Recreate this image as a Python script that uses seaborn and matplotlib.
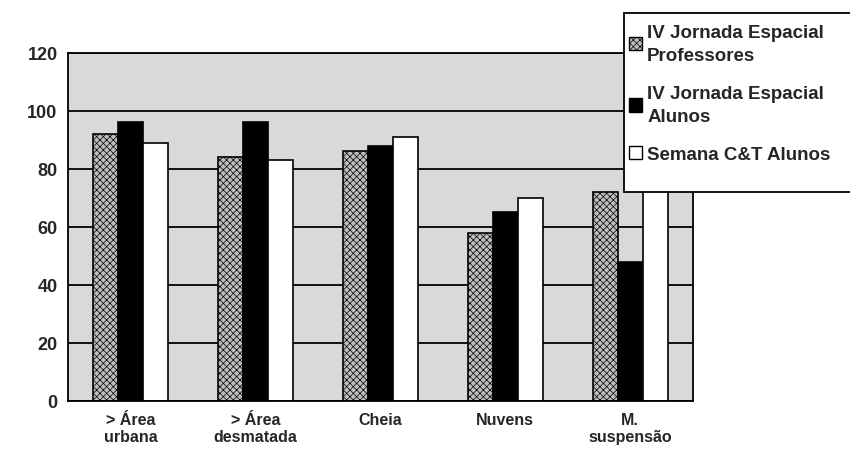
import pandas as pd
import matplotlib.pyplot as plt
import seaborn as sns
import numpy as np
from matplotlib.patches import Patch, Rectangle

# data
categories = ['> Área\nurbana', '> Área\ndesmatada', 'Cheia', 'Nuvens', 'M.\nsuspensão']
series = ['IV Jornada Espacial\nProfessores', 'IV Jornada Espacial\nAlunos', 'Semana C&T Alunos']
professores = [92, 84, 86, 58, 72]
alunos_jornada = [96, 96, 88, 65, 48]
alunos_semana = [89, 83, 91, 70, 75]

df = pd.DataFrame({
    'categoria': categories * 3,
    'serie': [series[0]] * 5 + [series[1]] * 5 + [series[2]] * 5,
    'valor': professores + alunos_jornada + alunos_semana,
})

sns.set_style('white')
plt.rcParams['font.family'] = ['Liberation Sans', 'DejaVu Sans']
plt.rcParams['font.weight'] = 'bold'
plt.rcParams['hatch.color'] = '#6e6e6e'
plt.rcParams['hatch.linewidth'] = 0.5

colors = ['#bdbdbd', '#000000', '#ffffff']
hatches = ['xxxxx', '', '']

fig = plt.figure(figsize=(8.5, 4.64), dpi=100)
ax = fig.add_axes([0.08, 0.134, 0.735, 0.75])
ax.set_facecolor('#d9d9d9')

sns.barplot(data=df, x='categoria', y='valor', hue='serie', hue_order=series,
            palette=colors, width=0.6, gap=0, edgecolor='black', linewidth=1.2,
            saturation=1, ax=ax, legend=False)

for i, cont in enumerate(ax.containers):
    for bar in cont:
        bar.set_hatch(hatches[i])

ax.set_ylim(0, 120)
ax.set_yticks(np.arange(0, 121, 20))
ax.yaxis.grid(True, color='black', linewidth=1.3)
ax.set_axisbelow(True)
ax.set_xlim(-0.5, 4.5)
ax.set_xticks(np.arange(len(categories)))
ax.set_xticklabels(categories, fontsize=11.5, fontweight='bold')
ax.tick_params(axis='x', length=0, pad=8)
# tick marks at category boundaries
ax.set_xticks(np.arange(-0.5, 5, 1), minor=True)
ax.tick_params(axis='x', which='minor', length=5, width=1.2, direction='out')
ax.tick_params(axis='y', length=4, width=1.2, direction='out', labelsize=13)
for lbl in ax.get_yticklabels():
    lbl.set_fontweight('bold')
ax.set_xlabel('')
ax.set_ylabel('')
for s in ax.spines.values():
    s.set_color('black')
    s.set_linewidth(1.3)

# legend box overlapping the plot, as in the original
box = Rectangle((0.734, 0.584), 0.3, 0.386, transform=fig.transFigure,
                facecolor='white', edgecolor='black', linewidth=1.3, zorder=3)
fig.patches.append(box)

handles = [Patch(facecolor=colors[i], edgecolor='black', hatch=hatches[i]) for i in range(3)]
leg = fig.legend(handles, series, loc='upper left', bbox_to_anchor=(0.736, 0.955),
                 frameon=False, fontsize=13.5,
                 handlelength=0.7, handleheight=0.7, handletextpad=0.25,
                 borderpad=0.2, labelspacing=1.1, borderaxespad=0)
for t in leg.get_texts():
    t.set_fontweight('bold')
    t.set_linespacing(1.5)

fig.savefig('out.png', dpi=100)
